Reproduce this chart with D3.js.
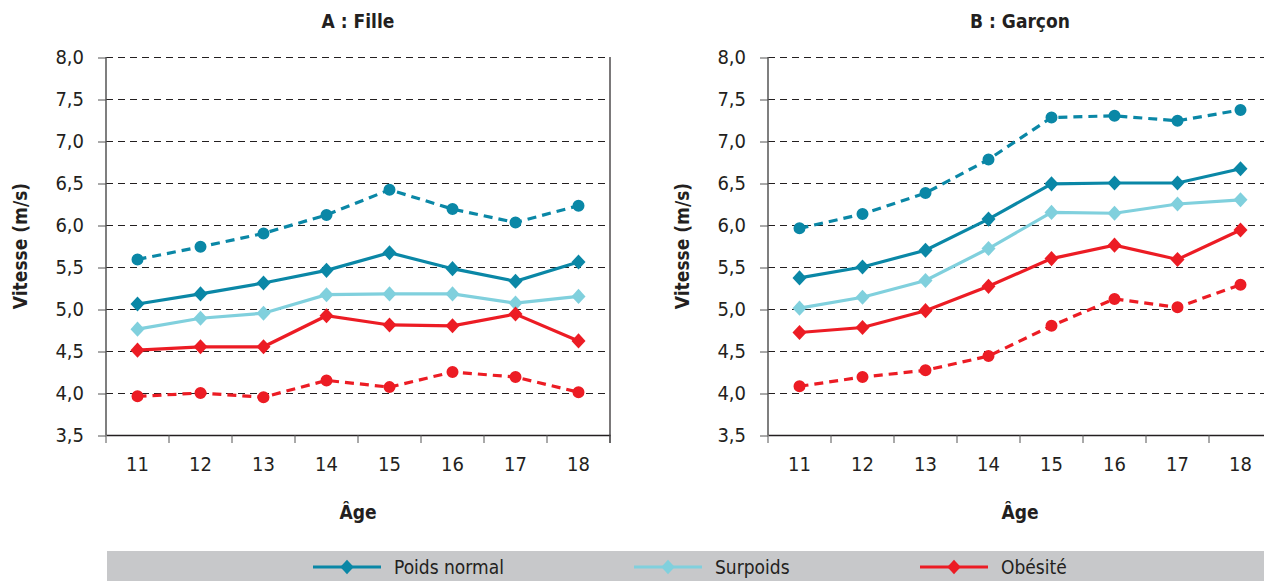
<!DOCTYPE html>
<html>
<head>
<meta charset="utf-8">
<script src="https://cdn.jsdelivr.net/npm/d3@7"></script>
<style>
  html, body { margin: 0; padding: 0; background: #fff; }
  svg text { font-family: "Liberation Sans Narrow", "DejaVu Sans Condensed", "Roboto", sans-serif; fill: #231f20; }
</style>
</head>
<body>
<div id="chart"></div>
<script>
// Data
const ages = ["11", "12", "13", "14", "15", "16", "17", "18"];
const yTicks = [3.5, 4.0, 4.5, 5.0, 5.5, 6.0, 6.5, 7.0, 7.5, 8.0];
const legendNames = ["Poids normal", "Surpoids", "Obésité"];

// A : Fille
const filleHaut     = [5.59, 5.74, 5.90, 6.12, 6.42, 6.19, 6.03, 6.23];
const filleNormal   = [5.06, 5.18, 5.31, 5.46, 5.67, 5.48, 5.33, 5.56];
const filleSurpoids = [4.76, 4.89, 4.95, 5.17, 5.18, 5.18, 5.07, 5.15];
const filleObesite  = [4.51, 4.55, 4.55, 4.92, 4.81, 4.80, 4.94, 4.62];
const filleBas      = [3.96, 4.00, 3.95, 4.15, 4.07, 4.25, 4.19, 4.01];

// B : Garçon
const garconHaut     = [5.96, 6.13, 6.38, 6.78, 7.28, 7.30, 7.24, 7.37];
const garconNormal   = [5.37, 5.50, 5.70, 6.07, 6.49, 6.50, 6.50, 6.67];
const garconSurpoids = [5.01, 5.14, 5.34, 5.72, 6.15, 6.14, 6.25, 6.30];
const garconObesite  = [4.72, 4.78, 4.98, 5.27, 5.60, 5.76, 5.59, 5.94];
const garconBas      = [4.08, 4.19, 4.27, 4.44, 4.80, 5.12, 5.02, 5.29];

// Style
const width = 1264, height = 581;
const plotW = 504, plotH = 378;
const teal = "#0a87a6", light = "#80d0dd", red = "#ec1c24";
const fmt = d => d.toFixed(1).replace(".", ",");

const svg = d3.select("#chart").append("svg")
    .attr("width", width)
    .attr("height", height);

const x = d3.scaleBand().domain(ages).range([0, plotW]);
const y = d3.scaleLinear().domain([3.5, 8]).range([plotH, 0]);

// square-ish diamond, like the original markers
const squareDiamond = {
    draw: function(ctx, size) {
        const r = Math.sqrt(size / 2);
        ctx.moveTo(0, -r * 1.08);
        ctx.lineTo(r, 0);
        ctx.lineTo(0, r * 1.08);
        ctx.lineTo(-r, 0);
        ctx.closePath();
    }
};
const diamond = d3.symbol().type(squareDiamond).size(98);
const dot = d3.symbol().type(d3.symbolCircle).size(113);

const drawPanel = function(left, title, series, rightBorder) {
    const g = svg.append("g").attr("transform", `translate(${left},57)`);

    // dashed grid
    g.append("g").selectAll("line")
        .data(yTicks.filter(v => v > 3.5))
        .join("line")
        .attr("x1", 0).attr("x2", plotW)
        .attr("y1", d => y(d) + 0.5).attr("y2", d => y(d) + 0.5)
        .attr("stroke", "#231f20")
        .attr("stroke-width", 1)
        .attr("stroke-dasharray", "7,5");

    // y axis
    const yAxis = g.append("g")
        .call(d3.axisLeft(y).tickValues(yTicks).tickSize(8).tickPadding(14).tickFormat(fmt));
    yAxis.select(".domain").remove();
    yAxis.selectAll("line").attr("stroke", "#555").attr("transform", "translate(0,0.5)");
    yAxis.selectAll("text").attr("font-size", 20).attr("fill", "#231f20");
    g.append("line")
        .attr("x1", 0).attr("x2", 0).attr("y1", 0).attr("y2", plotH)
        .attr("stroke", "#555").attr("stroke-width", 1.5);

    if (rightBorder) {
        g.append("line")
            .attr("x1", plotW).attr("x2", plotW).attr("y1", 0).attr("y2", plotH + 8)
            .attr("stroke", "#231f20").attr("stroke-width", 1.2);
    }

    // x axis
    const xAxis = g.append("g")
        .attr("transform", `translate(0,${plotH})`)
        .call(d3.axisBottom(x).tickSize(0).tickPadding(22));
    xAxis.select(".domain").attr("stroke", "#231f20").attr("stroke-width", 1.5);
    xAxis.selectAll("text").attr("font-size", 20).attr("fill", "#231f20");
    xAxis.append("g").selectAll("line")
        .data(ages.map(a => x(a)).concat([plotW]))
        .join("line")
        .attr("x1", d => d).attr("x2", d => d)
        .attr("y1", 0).attr("y2", 8)
        .attr("stroke", "#555");

    // titles
    g.append("text")
        .attr("x", plotW / 2).attr("y", -35)
        .attr("text-anchor", "middle")
        .attr("dominant-baseline", "middle")
        .attr("font-size", 19).attr("font-weight", "bold")
        .text(title);
    g.append("text")
        .attr("x", plotW / 2).attr("y", plotH + 78)
        .attr("text-anchor", "middle")
        .attr("dominant-baseline", "middle")
        .attr("font-size", 19).attr("font-weight", "bold")
        .text("Âge");
    g.append("text")
        .attr("transform", `translate(-85,${plotH / 2}) rotate(-90)`)
        .attr("text-anchor", "middle")
        .attr("dominant-baseline", "middle")
        .attr("font-size", 19).attr("font-weight", "bold")
        .text("Vitesse (m/s)");

    const line = d3.line()
        .x((d, i) => x(ages[i]) + x.bandwidth() / 2)
        .y(d => y(d));

    for (const s of series) {
        g.append("path")
            .datum(s.values)
            .attr("fill", "none")
            .attr("stroke", s.color)
            .attr("stroke-width", 3.2)
            .attr("stroke-dasharray", s.dashed ? "9,6" : null)
            .attr("d", line);
        g.append("g").selectAll("path")
            .data(s.values)
            .join("path")
            .attr("transform", (d, i) => `translate(${x(ages[i]) + x.bandwidth() / 2},${y(d)})`)
            .attr("fill", s.color)
            .attr("d", s.dashed ? dot() : diamond());
    }
};

drawPanel(106, "A : Fille", [
    {values: filleHaut, color: teal, dashed: true},
    {values: filleNormal, color: teal},
    {values: filleSurpoids, color: light},
    {values: filleObesite, color: red},
    {values: filleBas, color: red, dashed: true},
], true);

drawPanel(768, "B : Garçon", [
    {values: garconHaut, color: teal, dashed: true},
    {values: garconNormal, color: teal},
    {values: garconSurpoids, color: light},
    {values: garconObesite, color: red},
    {values: garconBas, color: red, dashed: true},
], true);

// Legend band
svg.append("rect")
    .attr("x", 107).attr("y", 551)
    .attr("width", width - 107).attr("height", 30)
    .attr("fill", "#c7c8ca");

const legendX = [313, 634, 920];
const legendColors = [teal, light, red];
const leg = svg.append("g").selectAll("g")
    .data(legendNames)
    .join("g")
    .attr("transform", (d, i) => `translate(${legendX[i]},567)`);
leg.append("line")
    .attr("x1", 0).attr("x2", 68)
    .attr("stroke", (d, i) => legendColors[i])
    .attr("stroke-width", 3.2);
leg.append("path")
    .attr("transform", "translate(34,0)")
    .attr("d", d3.symbol().type(squareDiamond).size(90)())
    .attr("fill", (d, i) => legendColors[i]);
leg.append("text")
    .attr("x", 81).attr("y", 1)
    .attr("dominant-baseline", "middle")
    .attr("font-size", 19)
    .text(d => d);
</script>
</body>
</html>
